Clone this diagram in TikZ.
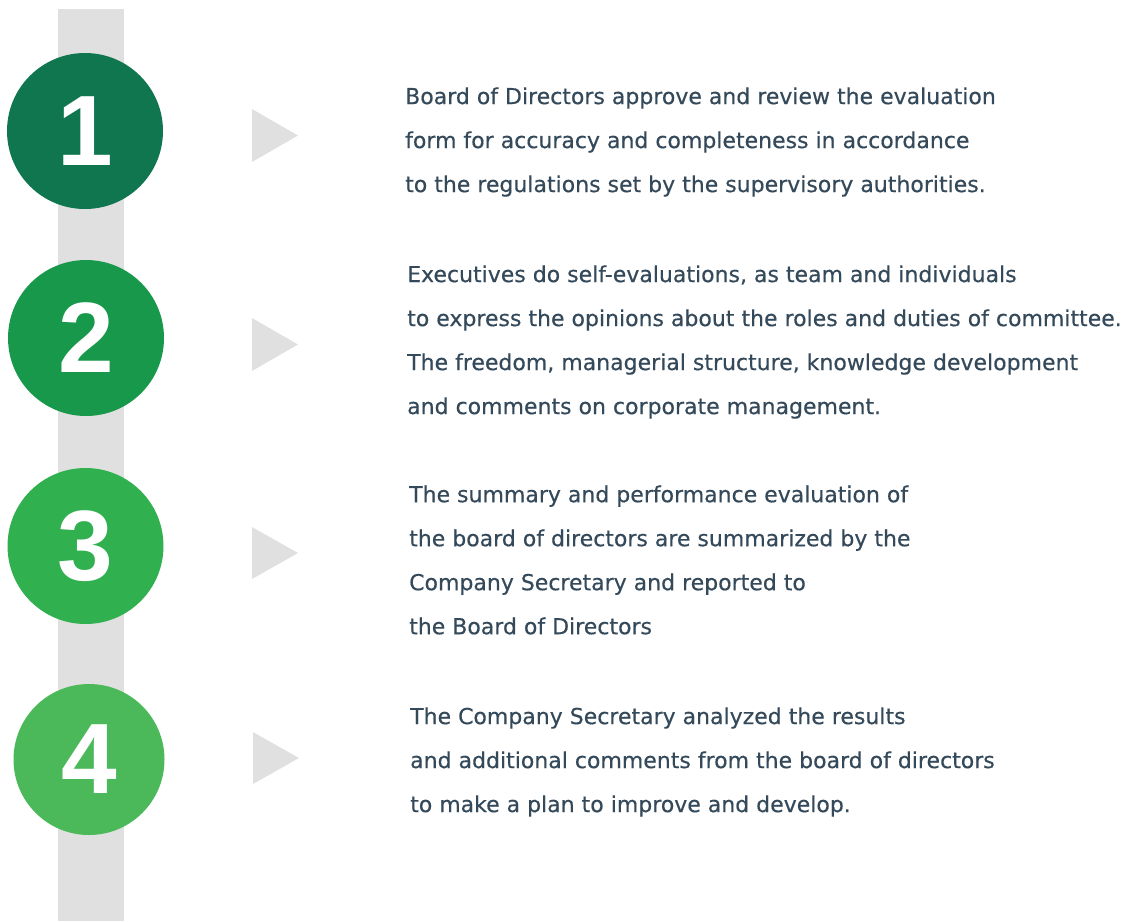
\documentclass[tikz,border=0pt]{standalone}
\usepackage{fontspec}
\setmainfont{Liberation Sans}
\newfontfamily\stepfont[FakeBold=0.4]{DejaVu Sans}
\definecolor{stepone}{HTML}{0F7650}
\definecolor{steptwo}{HTML}{18984A}
\definecolor{stepthree}{HTML}{31B04F}
\definecolor{stepfour}{HTML}{4BB95A}
\definecolor{railgray}{HTML}{E0E0E0}
\definecolor{slate}{HTML}{34495A}
\tikzset{
  stepnum/.style={circle, minimum size=156pt, inner sep=0pt, text=white,
    font=\fontsize{100}{100}\selectfont\bfseries},
  steptext/.style={anchor=west, align=left, inner sep=0pt, text=slate,
    font=\stepfont\fontsize{22}{44}\selectfont},
  pointer/.style={fill=railgray}
}
\begin{document}
\begin{tikzpicture}[x=1pt,y=-1pt]
  \useasboundingbox (0,0) rectangle (1147,921);
  \fill[railgray] (58,9) rectangle (124,921);
  % numbered circles
  \node[stepnum, fill=stepone] (c1) at (85,131) {1};
  \node[stepnum, fill=steptwo] (c2) at (86,338) {2};
  \node[stepnum, fill=stepthree] (c3) at (85.5,546) {3};
  \node[stepnum, fill=stepfour, minimum size=151pt] (c4) at (89,759.5) {4};
  % pointers
  \fill[pointer] (252,109) -- (298,135.5) -- (252,162) -- cycle;
  \fill[pointer] (252,318) -- (298,344.5) -- (252,371) -- cycle;
  \fill[pointer] (252,527) -- (298,553) -- (252,579) -- cycle;
  \fill[pointer] (253,732) -- (299,758) -- (253,784) -- cycle;
  % descriptions
  \node[steptext] (t1) at (405,142) {Board of Directors approve and review the evaluation\\
    form for accuracy and completeness in accordance\\
    to the regulations set by the supervisory authorities.};
  \node[steptext] (t2) at (407,342) {Executives do self-evaluations, as team and individuals\\
    to express the opinions about the roles and duties of committee.\\
    The freedom, managerial structure, knowledge development\\
    and comments on corporate management.};
  \node[steptext] (t3) at (409,560) {The summary and performance evaluation of\\
    the board of directors are summarized by the\\
    Company Secretary and reported to\\
    the Board of Directors};
  \node[steptext] (t4) at (410,762) {The Company Secretary analyzed the results\\
    and additional comments from the board of directors\\
    to make a plan to improve and develop.};
\end{tikzpicture}
\end{document}
